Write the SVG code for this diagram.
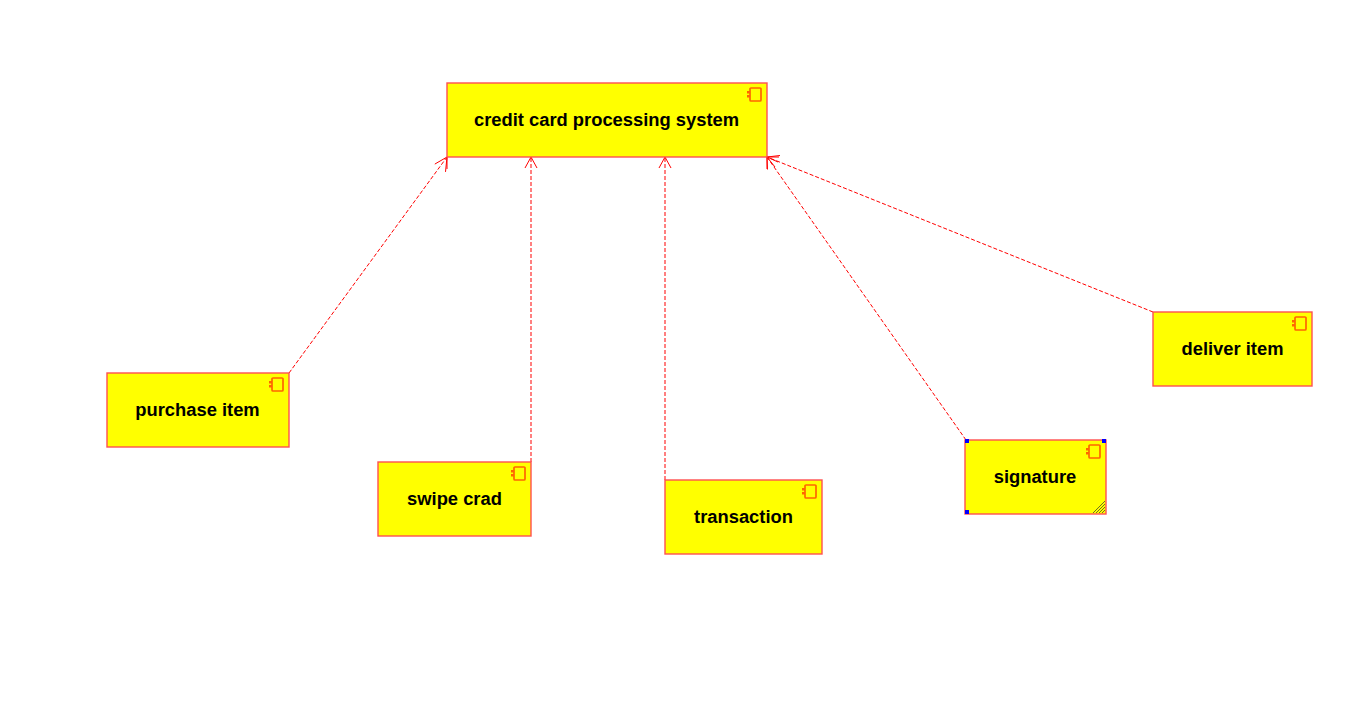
<svg xmlns="http://www.w3.org/2000/svg" width="1368" height="721" viewBox="0 0 1368 721">
<style>
.box{fill:#ffff00;stroke:#ff5050;stroke-width:1.4}
.ico{fill:none;stroke:#ff6600;stroke-width:1.7}
.icf{fill:#ff6600}
.lbl{font-family:"Liberation Sans",Arial,sans-serif;font-size:18.35px;font-weight:bold;fill:#000;text-anchor:middle}
.con{fill:none;stroke:#ff0000;stroke-width:1;stroke-dasharray:4 2}
.head{fill:none;stroke:#ff0000;stroke-width:1}
.h{fill:#0000ff}
.hatch{stroke:#707020;stroke-width:1;fill:none}
</style>
<defs>
<g id="icon">
<rect class="ico" x="-11" y="1" width="11" height="13" rx="1"/>
<rect class="icf" x="-14" y="4" width="3" height="2.500"/>
<rect class="icf" x="-14" y="8" width="3" height="2.500"/>
</g>
</defs>
<rect width="1368" height="721" fill="#ffffff"/>
<g id="connectors">
<path class="con" d="M289 373L447 157"/>
<path class="head" d="M434.800 164.100L447 157L445.500 171.900"/>
<path class="con" d="M531 462V157"/>
<path class="head" d="M525 168L531 157L537 168"/>
<path class="con" d="M665 480V157"/>
<path class="head" d="M659 168L665 157L671 168"/>
<path class="con" d="M966 440L767 157"/>
<path class="head" d="M767.500 169.500L767 157L778 162"/>
<path class="con" d="M1153 312L767 157"/>
<path class="head" d="M775 167L767 157L780 155.500"/>
<path class="head" d="M767 157H779M767 157V169M447 157V169"/>
</g>
<g id="node-credit">
<rect class="box" x="447" y="83" width="320" height="74"/>
<use href="#icon" x="761" y="87"/>
<text class="lbl" x="606.500" y="126">credit card processing system</text>
</g>
<g id="node-purchase">
<rect class="box" x="107" y="373" width="182" height="74"/>
<use href="#icon" x="283" y="377"/>
<text class="lbl" x="197.500" y="416">purchase item</text>
</g>
<g id="node-swipe">
<rect class="box" x="378" y="462" width="153" height="74"/>
<use href="#icon" x="525" y="466"/>
<text class="lbl" x="454.500" y="505">swipe crad</text>
</g>
<g id="node-transaction">
<rect class="box" x="665" y="480" width="157" height="74"/>
<use href="#icon" x="816" y="484"/>
<text class="lbl" x="743.500" y="523">transaction</text>
</g>
<g id="node-signature">
<rect class="box" x="965" y="440" width="141" height="74"/>
<use href="#icon" x="1100" y="444"/>
<text class="lbl" x="1035" y="483">signature</text>
<path class="hatch" d="M1093 513L1105 501M1096 513L1105 504M1099 513L1105 507M1102 513L1105 510"/>
<rect class="h" x="965" y="439" width="4" height="4"/>
<rect class="h" x="1102" y="439" width="4" height="4"/>
<rect class="h" x="965" y="510" width="4" height="4"/>
</g>
<g id="node-deliver">
<rect class="box" x="1153" y="312" width="159" height="74"/>
<use href="#icon" x="1306" y="316"/>
<text class="lbl" x="1232.500" y="355">deliver item</text>
</g>
</svg>
